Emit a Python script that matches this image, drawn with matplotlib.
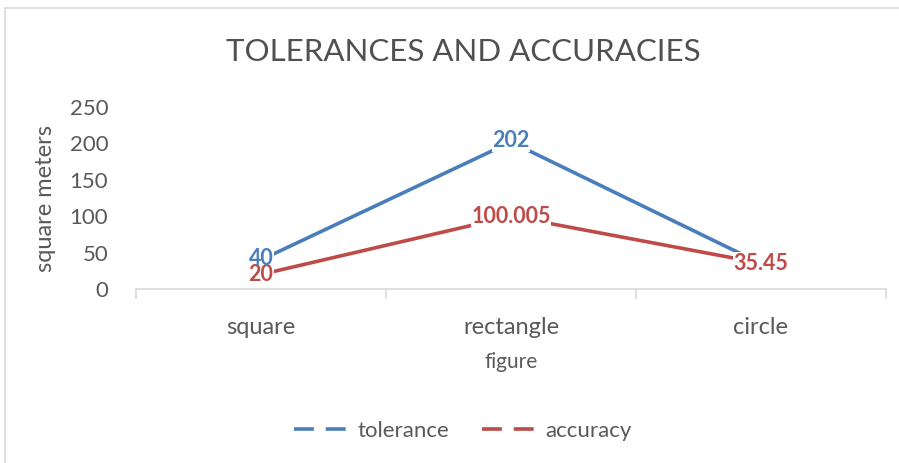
import matplotlib.pyplot as plt
from matplotlib.lines import Line2D
from matplotlib.patches import Rectangle

plt.rcParams['font.family'] = ['Lato', 'DejaVu Sans']

# data
categories = ['square', 'rectangle', 'circle']
tolerance = [40, 202, 35]
accuracy = [20, 100.005, 35.45]
tol_labels = ['40', '202', '']
acc_labels = ['20', '100.005', '35.45']

blue = '#4A7EBB'
red = '#BE4B48'
grey = '#595959'

fig = plt.figure(figsize=(8.99, 4.63), dpi=100)

# outer chart border
fig.patches.append(Rectangle((5/899, -0.05), 1.2, 1 - 8/463 + 0.05, transform=fig.transFigure,
                             fill=False, edgecolor='#D9D9D9', linewidth=1.2))

ax = fig.add_axes([136/899, (463-289)/463, 750/899, (289-107)/463])
x = range(len(categories))
ax.plot(x, tolerance, color=blue, linewidth=2.6, solid_capstyle='butt')
ax.plot(x, accuracy, color=red, linewidth=2.6, solid_capstyle='butt')


def data_label(xi, yi, txt, color):
    # white box underneath, text on top so neighbouring labels stay readable
    kw = dict(fontsize=15.5, fontweight='bold', ha='center', va='center')
    ax.text(xi, yi, txt, color='none', zorder=4,
            bbox=dict(facecolor='white', edgecolor='none', pad=0.5), **kw)
    ax.text(xi, yi, txt, color=color, zorder=6, **kw)


for i in x:
    data_label(i, accuracy[i], acc_labels[i], red)
for i in x:
    if tol_labels[i]:
        data_label(i, tolerance[i] + 2, tol_labels[i], blue)

ax.set_xlim(-0.5, 2.5)
ax.set_ylim(0, 250)
ax.set_yticks([0, 50, 100, 150, 200, 250])
ax.set_xticks(list(x))
ax.set_xticklabels(categories)
ax.set_xticks([-0.5, 0.5, 1.5, 2.5], minor=True)
ax.tick_params(axis='x', which='major', length=0, pad=20, labelsize=17, labelcolor=grey)
ax.tick_params(axis='x', which='minor', length=7, color='#D9D9D9', width=1.2)
ax.tick_params(axis='y', length=0, pad=20, labelsize=16, labelcolor=grey)

for s in ['top', 'right', 'left']:
    ax.spines[s].set_visible(False)
ax.spines['bottom'].set_color('#D9D9D9')
ax.spines['bottom'].set_linewidth(1.2)

ax.set_ylabel('square meters', fontsize=17, color=grey, labelpad=10)
ax.set_xlabel('figure', fontsize=15, color=grey, labelpad=10)

fig.text(463/899, 1 - 52/463, 'TOLERANCES AND ACCURACIES', fontsize=22.5, color='#505050',
         ha='center', va='center')

handles = [Line2D([], [], color=blue, linewidth=2.6, dashes=(5.5, 3.3)),
           Line2D([], [], color=red, linewidth=2.6, dashes=(5.5, 3.3))]
fig.legend(handles, ['tolerance', 'accuracy'], loc='center', bbox_to_anchor=(463/899, 1 - 431/463),
           ncol=2, frameon=False, fontsize=16, labelcolor=grey, handlelength=2.5,
           handletextpad=0.35, columnspacing=1.5)

fig.savefig('out.png', dpi=100)
